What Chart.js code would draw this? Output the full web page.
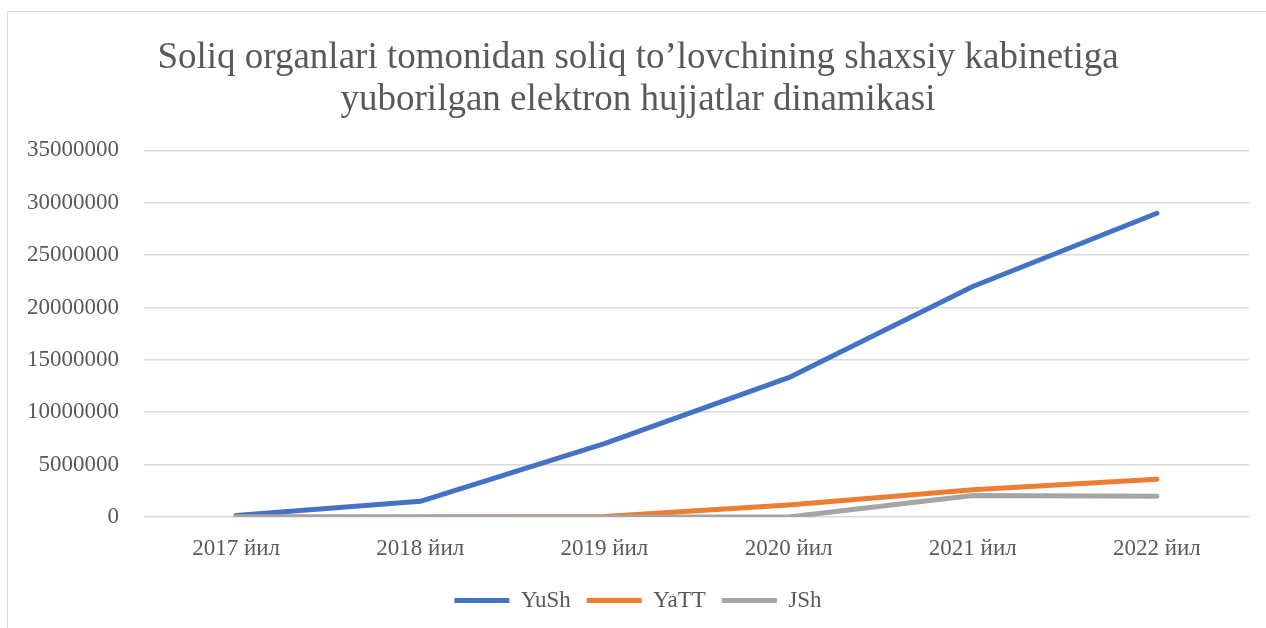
<!DOCTYPE html>
<html>
<head>
<meta charset="utf-8">
<script src="https://cdn.jsdelivr.net/npm/chart.js@4"></script>
<style>
    html, body { margin: 0; padding: 0; background: #fff; overflow: hidden; }
    #frame {
        position: absolute;
        left: 7px;
        top: 11px;
        width: 1270px;
        height: 630px;
        border: 1px solid #d9d9d9;
        box-sizing: border-box;
    }
    #wrap { position: absolute; left: 0; top: 0; width: 1266px; height: 628px; }
</style>
</head>
<body>
<div id="frame"></div>
<div id="wrap"><canvas id="lineChart"></canvas></div>
<script>
// Datos del gráfico
const years = ['2017 йил', '2018 йил', '2019 йил', '2020 йил', '2021 йил', '2022 йил'];
const yushValues = [150000, 1500000, 7000000, 13300000, 22000000, 29000000];
const yattValues = [0, 0, 50000, 1150000, 2600000, 3600000];
const jshValues = [0, 0, 0, 0, 2050000, 1980000];
const chartTitle = ['Soliq organlari tomonidan soliq to\u2019lovchining shaxsiy kabinetiga', 'yuborilgan elektron hujjatlar dinamikasi'];

const serif = "'Liberation Serif', 'Times New Roman', serif";
const textColor = '#595959';

// la última serie se dibuja encima (como en Excel)
function lineSeries(label, data, color, order) {
    return {
        label,
        data,
        order,
        borderColor: color,
        backgroundColor: color,
        borderWidth: 5,
        borderCapStyle: 'round',
        borderJoinStyle: 'round',
        pointRadius: 0,
        pointStyle: 'line',
        tension: 0,
        fill: false
    };
}

const canvas = document.getElementById('lineChart');
new Chart(canvas, {
    type: 'line',
    data: {
        labels: years,
        datasets: [
            lineSeries('YuSh', yushValues, '#4472c4', 2),
            lineSeries('YaTT', yattValues, '#ed7d31', 1),
            lineSeries('JSh', jshValues, '#a5a5a5', 0)
        ]
    },
    options: {
        responsive: true,
        maintainAspectRatio: false,
        animation: false,
        layout: {
            padding: { left: 27, right: 17, top: 37, bottom: 6 }
        },
        plugins: {
            title: {
                display: true,
                text: chartTitle,
                color: textColor,
                font: { family: serif, size: 37, weight: 'normal', lineHeight: 1.14 },
                padding: { top: 0, bottom: 29 }
            },
            legend: {
                position: 'bottom',
                labels: {
                    color: textColor,
                    font: { family: serif, size: 23 },
                    usePointStyle: true,
                    pointStyleWidth: 55,
                    boxHeight: 5,
                    padding: 16,
                    sort: (a, b) => a.datasetIndex - b.datasetIndex
                }
            },
            tooltip: { enabled: false }
        },
        scales: {
            x: {
                offset: true,
                grid: { display: false, drawTicks: false },
                border: { display: false },
                afterFit: (scale) => { scale.height = 56; },
                ticks: {
                    color: textColor,
                    font: { family: serif, size: 23 },
                    padding: 18,
                    maxRotation: 0
                }
            },
            y: {
                min: 0,
                max: 35000000,
                grid: { color: '#d9d9d9', lineWidth: 1.5, drawTicks: false },
                border: { display: false },
                afterFit: (scale) => { scale.width = 117; },
                ticks: {
                    stepSize: 5000000,
                    color: textColor,
                    font: { family: serif, size: 23 },
                    padding: 25,
                    callback: (value) => String(value)
                }
            }
        }
    }
});
</script>
</body>
</html>
